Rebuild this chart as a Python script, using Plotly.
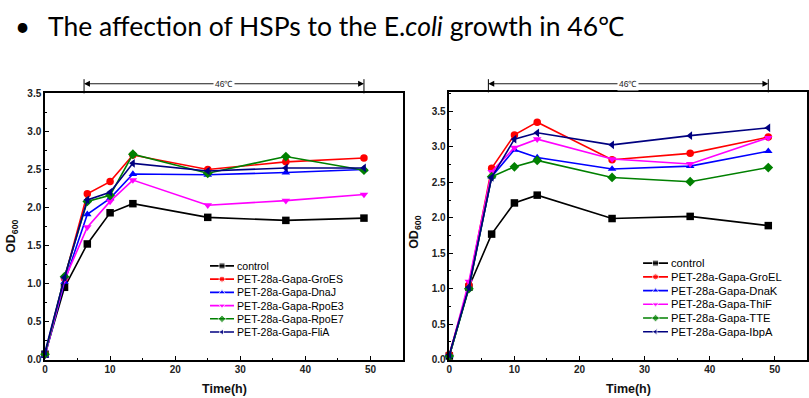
import plotly.graph_objects as go

W, H = 809, 420

# ---------------- data ----------------
time_h = [0, 3, 6.5, 10, 13.5, 25, 37, 49]

left_names = ["control", "PET-28a-Gapa-GroES", "PET-28a-Gapa-DnaJ",
              "PET-28a-Gapa-RpoE3", "PET-28a-Gapa-RpoE7", "PET-28a-Gapa-FliA"]
control_L = [0.07, 0.95, 1.52, 1.93, 2.05, 1.87, 1.83, 1.86]
GroES = [0.07, 1.07, 2.18, 2.34, 2.69, 2.50, 2.60, 2.65]
DnaJ = [0.05, 1.02, 1.91, 2.12, 2.44, 2.43, 2.46, 2.50]
RpoE3 = [0.05, 1.05, 1.74, 2.08, 2.36, 2.03, 2.09, 2.17]
RpoE7 = [0.07, 1.09, 2.08, 2.16, 2.70, 2.45, 2.67, 2.49]
FliA = [0.10, 1.08, 2.10, 2.20, 2.58, 2.48, 2.52, 2.52]
left_values = [control_L, GroES, DnaJ, RpoE3, RpoE7, FliA]

right_names = ["control", "PET-28a-Gapa-GroEL", "PET-28a-Gapa-DnaK",
               "PET-28a-Gapa-ThiF", "PET-28a-Gapa-TTE", "PET-28a-Gapa-IbpA"]
control_R = [0.05, 1.02, 1.77, 2.21, 2.32, 1.99, 2.02, 1.89]
GroEL = [0.07, 1.05, 2.70, 3.17, 3.35, 2.82, 2.91, 3.14]
DnaK = [0.05, 1.02, 2.58, 2.96, 2.85, 2.69, 2.73, 2.94]
ThiF = [0.05, 1.10, 2.65, 2.99, 3.11, 2.83, 2.76, 3.13]
TTE = [0.05, 1.00, 2.58, 2.72, 2.81, 2.57, 2.51, 2.71]
IbpA = [0.07, 1.02, 2.57, 3.11, 3.20, 3.03, 3.16, 3.27]
right_values = [control_R, GroEL, DnaK, ThiF, TTE, IbpA]

heat_start, heat_end = 6, 49
heat_label = "46℃"

colors = ["#000000", "#FF0000", "#0000FF", "#FF00FF", "#008000", "#000080"]
symbols = ["square", "circle", "triangle-up", "triangle-down", "diamond", "triangle-left"]

# ---------------- helpers (target screen pixel -> paper fraction) ----------------
def px_x(t):
    return ((t - 3) / 0.995) / W

def px_y(t):
    return (H - (t - 8.1) / 0.957) / H

FONT = "Liberation Sans, Arial, sans-serif"

fig = go.Figure()

panels = [
    dict(x="x", y="y", names=left_names, vals=left_values, lx="x3", ly="y3", lfs=10.6),
    dict(x="x2", y="y2", names=right_names, vals=right_values, lx="x4", ly="y4", lfs=11.2),
]

for p in panels:
    for i, (nm, vals) in enumerate(zip(p["names"], p["vals"])):
        fig.add_trace(go.Scatter(
            x=time_h, y=vals, name=nm, xaxis=p["x"], yaxis=p["y"],
            mode="lines+markers",
            line=dict(color=colors[i], width=1.6),
            marker=dict(symbol=symbols[i], size=7.5, color=colors[i]),
            showlegend=False, cliponaxis=False,
        ))
    # custom compact legend drawn on its own small axes
    for i, nm in enumerate(p["names"]):
        fig.add_trace(go.Scatter(
            x=[0, 0.5, 1], y=[i, i, i], xaxis=p["lx"], yaxis=p["ly"],
            mode="lines+markers",
            line=dict(color=colors[i], width=1.6),
            marker=dict(symbol=symbols[i], size=[0, 6, 0], color=colors[i]),
            showlegend=False, hoverinfo="skip", cliponaxis=False,
        ))
        fig.add_annotation(x=1, y=i, xref=p["lx"], yref=p["ly"], text=nm,
                           showarrow=False, xanchor="left", yanchor="middle",
                           xshift=1, font=dict(family=FONT, size=p["lfs"], color="#000000"))

ax_common = dict(
    showgrid=False, zeroline=False, showline=True, linecolor="#000000",
    linewidth=1.5, mirror=True, ticks="inside", ticklen=4, tickwidth=1.2,
    tickcolor="#000000",
    tickfont=dict(family=FONT, size=10, color="#222222", weight="bold"),
)

fig.update_layout(
    width=W, height=H, margin=dict(l=0, r=0, t=0, b=0),
    paper_bgcolor="white", plot_bgcolor="white", showlegend=False,
    xaxis=dict(domain=[px_x(45), px_x(403)], range=[0, 55], dtick=10,
               minor=dict(dtick=5, ticks="inside", ticklen=2, tickcolor="#000"),
               anchor="y", **ax_common),
    yaxis=dict(domain=[px_y(356.5), px_y(95)], range=[0, 3.5], dtick=0.5, tickformat=".1f",
               minor=dict(dtick=0.25, ticks="inside", ticklen=2, tickcolor="#000"),
               anchor="x", **ax_common),
    xaxis2=dict(domain=[px_x(449.3), min(1.0, px_x(807.3))], range=[0, 55], dtick=10,
                minor=dict(dtick=5, ticks="inside", ticklen=2, tickcolor="#000"),
                anchor="y2", **ax_common),
    yaxis2=dict(domain=[px_y(356.5), px_y(94)], range=[0, 3.77], dtick=0.5, tickformat=".1f",
                minor=dict(dtick=0.25, ticks="inside", ticklen=2, tickcolor="#000"),
                anchor="x2", **ax_common),
    xaxis3=dict(domain=[px_x(210), px_x(234)], range=[0, 1], visible=False, anchor="y3"),
    yaxis3=dict(domain=[px_y(336), px_y(258)], range=[5.5, -0.5], visible=False, anchor="x3"),
    xaxis4=dict(domain=[px_x(643), px_x(668)], range=[0, 1], visible=False, anchor="y4"),
    yaxis4=dict(domain=[px_y(336), px_y(255)], range=[5.5, -0.5], visible=False, anchor="x4"),
)

# axis titles
for cx in [(45 + 403) / 2, (449.3 + 807.3) / 2]:
    fig.add_annotation(x=px_x(cx), y=px_y(385), xref="paper", yref="paper",
                       text="<b>Time(h)</b>", showarrow=False,
                       xanchor="center", yanchor="middle",
                       font=dict(family=FONT, size=12.5, color="#111111"))
for ox, oyc in [(12, 236), (415, 232)]:
    fig.add_annotation(x=px_x(ox), y=px_y(oyc), xref="paper", yref="paper",
                       text="<b>OD<sub>600</sub></b>", showarrow=False, textangle=-90,
                       xanchor="center", yanchor="middle",
                       font=dict(family=FONT, size=12.5, color="#111111"))

# 46℃ brackets above each panel
br_y = px_y(85.5)
for xr, ytop in [("x", px_y(95)), ("x2", px_y(94))]:
    mid = (heat_start + heat_end) / 2
    for xe in (heat_start, heat_end):
        fig.add_shape(type="line", xref=xr, yref="paper", x0=xe, x1=xe,
                      y0=ytop, y1=px_y(81), line=dict(color="#000", width=1))
        fig.add_annotation(x=xe, y=br_y, ax=mid, ay=0, xref=xr, yref="paper",
                           axref=xr, ayref="pixel", text="", showarrow=True,
                           arrowhead=2, arrowsize=1.3, arrowwidth=0.9, arrowcolor="#000",
                           standoff=0, startstandoff=0)
    fig.add_annotation(x=mid, y=br_y, xref=xr, yref="paper", text=heat_label,
                       showarrow=False, bgcolor="white", borderpad=1,
                       xanchor="center", yanchor="middle",
                       font=dict(family=FONT, size=8.5, color="#222222"))

# slide title
fig.add_annotation(x=px_x(22), y=px_y(29), xref="paper", yref="paper", text="•",
                   showarrow=False, xanchor="center", yanchor="middle",
                   font=dict(family="Lato, sans-serif", size=26, color="#000"))
fig.add_annotation(x=px_x(46), y=px_y(29), xref="paper", yref="paper",
                   text="The affection of HSPs to the E.<i>coli</i> growth in 46℃",
                   showarrow=False, xanchor="left", yanchor="middle",
                   font=dict(family="Lato, sans-serif", size=26.5, color="#000"))

fig.write_html("out.html", config={"displayModeBar": False},
               post_script="document.body.style.margin='0';document.body.style.overflow='hidden';")
